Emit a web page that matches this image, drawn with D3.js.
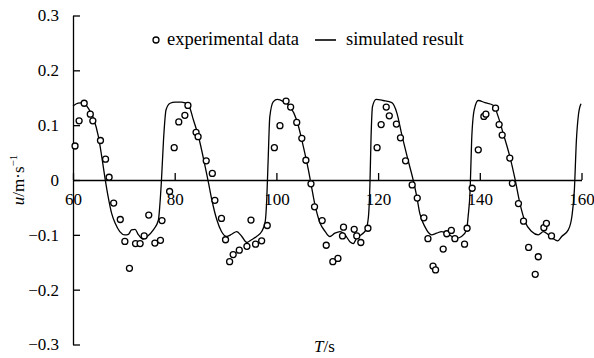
<!DOCTYPE html>
<html>
<head>
<meta charset="utf-8">
<script src="https://cdn.jsdelivr.net/npm/d3@7"></script>
<style>
  html, body { margin: 0; padding: 0; background: #fff; }
</style>
</head>
<body>
<div id="chart"></div>
<script>
// measured velocity (T in s, u in m/s)
const expT = [60.4, 61.2, 62.2, 63.4, 63.9, 65.4, 66.4, 67.1, 68.0, 69.3, 70.2, 71.1, 72.3, 73.2, 74.0, 74.9, 76.1, 77.2, 77.5, 79.0,
  79.9, 80.8, 82.0, 82.6, 84.2, 84.6, 86.2, 87.4, 87.9, 89.2, 90.0, 90.8, 91.5, 92.7, 94.2, 95.0, 95.9, 97.1, 98.2,
  99.6, 100.7, 101.9, 102.8, 104.0, 105.0, 105.8, 106.8, 107.5, 109.0, 109.8, 111.1, 112.1, 113.0, 113.2, 115.3, 115.8, 116.6, 118.0,
  119.8, 120.6, 121.6, 122.2, 123.6, 124.4, 125.4, 126.7, 127.7, 129.0, 129.8, 130.8, 131.3, 132.8, 133.5, 134.4, 135.1,
  137.0, 137.5, 138.5, 139.7, 140.8, 141.2, 143.1, 143.8, 144.4, 145.9, 146.4, 147.6, 148.6, 149.6, 150.9, 151.5, 152.6, 153.1, 154.1];
const expU = [0.062, 0.108, 0.140, 0.120, 0.108, 0.072, 0.038, 0.005, -0.042, -0.072, -0.112, -0.161, -0.116, -0.116, -0.102, -0.064, -0.115, -0.110, -0.074, -0.021,
  0.059, 0.106, 0.118, 0.136, 0.087, 0.079, 0.035, 0.012, -0.037, -0.070, -0.109, -0.149, -0.136, -0.128, -0.121, -0.073, -0.117, -0.111, -0.083,
  0.059, 0.099, 0.144, 0.133, 0.105, 0.076, 0.036, -0.007, -0.049, -0.074, -0.119, -0.149, -0.143, -0.102, -0.086, -0.090, -0.102, -0.114, -0.088,
  0.059, 0.101, 0.133, 0.117, 0.102, 0.077, 0.035, -0.009, -0.033, -0.069, -0.107, -0.157, -0.164, -0.126, -0.098, -0.092, -0.107,
  -0.117, -0.088, -0.015, 0.055, 0.116, 0.120, 0.131, 0.101, 0.082, 0.040, -0.006, -0.043, -0.075, -0.123, -0.172, -0.140, -0.087, -0.079, -0.102];

// simulated velocity
const simT = [60, 61.0, 62.0, 63.0, 64.0, 65.0, 65.6, 66.3, 66.9, 67.6, 68.3, 69.2, 70.2, 70.9, 71.5, 72.2, 72.8, 73.8, 74.6, 75.8, 76.8, 77.1, 77.4, 77.8, 78.3, 79.1, 80.1, 81.4, 82.7, 83.7, 84.6,
  86.0, 86.6, 87.3, 88.3, 89.2, 90.2, 91.2, 92.2, 93.2, 94.2, 95.1, 96.1, 97.1, 97.8, 98.1, 98.4, 98.7, 99.4, 100.2, 101.4, 102.7, 104.0, 105.3, 106.3, 106.9, 107.6, 108.6,
  109.6, 110.5, 111.5, 112.5, 113.5, 114.5, 115.1, 115.8, 116.8, 117.6, 118.1, 118.4, 118.6, 118.9, 119.6, 121.0, 122.7, 123.7, 124.6, 125.9, 126.9, 127.6, 128.2, 129.2, 130.5, 131.5, 132.5, 133.5, 134.5, 135.5,
  136.4, 137.4, 137.7, 138.1, 138.4, 138.9, 139.7, 141.0, 142.7, 143.6, 144.6, 145.9, 146.9, 147.9, 148.9, 150.2, 151.5, 152.5, 153.5, 154.8, 155.3, 156.1, 157.4, 158.1, 158.6, 159.0, 159.4, 159.9];
const simU = [0.135, 0.140, 0.141, 0.131, 0.113, 0.079, 0.046, 0.003, -0.030, -0.061, -0.079, -0.094, -0.100, -0.099, -0.091, -0.090, -0.099, -0.108, -0.103, -0.091, -0.073, -0.043, 0.0, 0.073, 0.128, 0.140, 0.142, 0.142, 0.137, 0.109, 0.082,
  0.024, -0.003, -0.036, -0.073, -0.094, -0.103, -0.099, -0.094, -0.103, -0.114, -0.109, -0.103, -0.094, -0.076, -0.036, 0.043, 0.115, 0.143, 0.147, 0.143, 0.134, 0.109, 0.061, 0.018, -0.012, -0.046, -0.079,
  -0.094, -0.103, -0.097, -0.094, -0.100, -0.113, -0.116, -0.106, -0.099, -0.091, -0.067, -0.006, 0.073, 0.134, 0.147, 0.145, 0.141, 0.122, 0.085, 0.036, 0.0, -0.030, -0.061, -0.085, -0.100, -0.097, -0.094, -0.097, -0.103, -0.106,
  -0.103, -0.091, -0.067, -0.018, 0.073, 0.128, 0.145, 0.141, 0.136, 0.116, 0.085, 0.043, 0.003, -0.043, -0.076, -0.094, -0.100, -0.094, -0.100, -0.109, -0.111, -0.103, -0.091, -0.067, -0.018, 0.073, 0.119, 0.139];

const xTicks = [60, 80, 100, 120, 140, 160];
const yTicks = [0.3, 0.2, 0.1, 0, -0.1, -0.2, -0.3];
const yTickLabels = ["0.3", "0.2", "0.1", "0", "\u22120.1", "\u22120.2", "\u22120.3"];
const legendLabels = ["experimental data", "simulated result"];

const FONT = "'Liberation Serif', 'Times New Roman', 'DejaVu Serif', serif";
const width = 594, height = 358;
const svg = d3.select("#chart").append("svg")
  .attr("width", width)
  .attr("height", height)
  .style("font-family", FONT);

const x = d3.scaleLinear().domain([60, 160]).range([73, 581.5]);
const y = d3.scaleLinear().domain([-0.3, 0.3]).range([344.5, 15.5]);

// y axis, ticks pointing inward
const yAxis = svg.append("g")
  .attr("transform", `translate(${x(60)},0)`)
  .call(d3.axisLeft(y).tickValues(yTicks).tickSizeInner(-7).tickSizeOuter(0).tickPadding(14)
    .tickFormat((d, i) => yTickLabels[i]));
yAxis.attr("font-family", null).attr("font-size", null);
yAxis.select(".domain").attr("stroke-width", 1.3);
yAxis.selectAll(".tick line").attr("stroke-width", 1.3);
yAxis.selectAll("text").style("font-family", FONT).style("font-size", "17px").attr("fill", "#000");

// x axis along u = 0, ticks pointing up
const xAxis = svg.append("g")
  .attr("transform", `translate(0,${y(0)})`)
  .call(d3.axisBottom(x).tickValues(xTicks).tickSizeInner(-7).tickSizeOuter(0).tickPadding(13)
    .tickFormat(d3.format("d")));
xAxis.attr("font-family", null).attr("font-size", null);
xAxis.select(".domain").attr("stroke-width", 1.3);
xAxis.selectAll(".tick line").attr("stroke-width", 1.3);
xAxis.selectAll("text").style("font-family", FONT).style("font-size", "17px").attr("fill", "#000");

// simulated curve
const simData = simT.map((t, i) => ({ t, u: simU[i] }));
svg.append("path")
  .datum(simData)
  .attr("fill", "none")
  .attr("stroke", "#000")
  .attr("stroke-width", 1.3)
  .attr("d", d3.line().x(d => x(d.t)).y(d => y(d.u)).curve(d3.curveMonotoneX));

// experimental points
const expData = expT.map((t, i) => ({ t, u: expU[i] }));
svg.append("g").selectAll("circle")
  .data(expData)
  .enter().append("circle")
  .attr("cx", d => x(d.t))
  .attr("cy", d => y(d.u))
  .attr("r", 3)
  .attr("fill", "#fff")
  .attr("stroke", "#000")
  .attr("stroke-width", 1.3);

// legend
const legend = svg.append("g");
legend.append("circle")
  .attr("cx", 156).attr("cy", 40).attr("r", 3)
  .attr("fill", "#fff").attr("stroke", "#000").attr("stroke-width", 1.3);
legend.append("text")
  .attr("x", 167).attr("y", 44.5)
  .style("font-size", "18.5px")
  .text(legendLabels[0]);
legend.append("line")
  .attr("x1", 315).attr("x2", 336).attr("y1", 40).attr("y2", 40)
  .attr("stroke", "#000").attr("stroke-width", 1.6);
legend.append("text")
  .attr("x", 346).attr("y", 44.5)
  .style("font-size", "18.5px")
  .text(legendLabels[1]);

// axis titles
const yTitle = svg.append("text")
  .attr("transform", `translate(24,${y(0)}) rotate(-90)`)
  .attr("text-anchor", "middle")
  .style("font-size", "17px");
yTitle.append("tspan").style("font-style", "italic").text("u");
yTitle.append("tspan").text("/m\u00b7s");
yTitle.append("tspan").attr("dy", -7).style("font-size", "11px").text("\u22121");

const xTitle = svg.append("text")
  .attr("x", 324.5).attr("y", 351.5)
  .attr("text-anchor", "middle")
  .style("font-size", "17px");
xTitle.append("tspan").style("font-style", "italic").text("T");
xTitle.append("tspan").text("/s");
</script>
</body>
</html>
